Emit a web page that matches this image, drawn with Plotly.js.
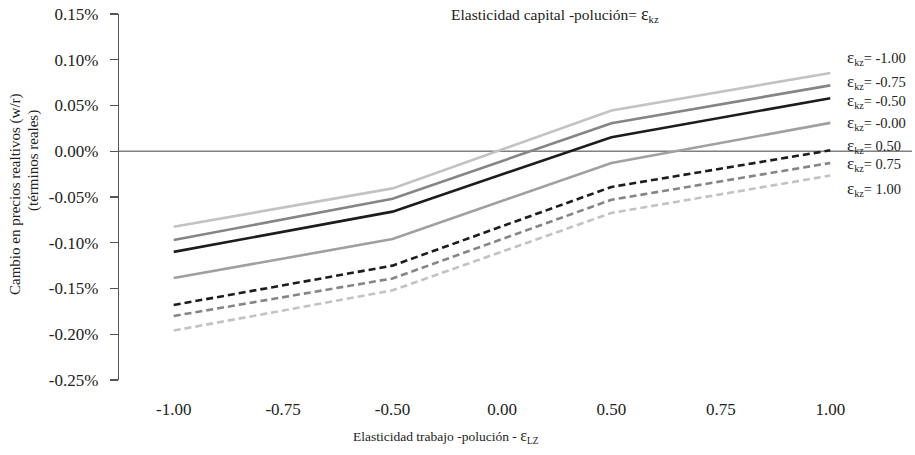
<!DOCTYPE html>
<html>
<head>
<meta charset="utf-8">
<script src="https://cdn.plot.ly/plotly-3.0.1.min.js"></script>
<style>
  html, body { margin: 0; padding: 0; background: #ffffff; }
  #chart { width: 915px; height: 455px; }
</style>
</head>
<body>
<div id="chart"></div>
<script>
// Categories of the labour-pollution elasticity (x axis)
const categories = ['-1.00', '-0.75', '-0.50', '0.00', '0.50', '0.75', '1.00'];

// Change in relative prices w/r (%), one series per capital-pollution elasticity
const ekz_m100 = [-0.0825, null, -0.0406, null, 0.0445, null, 0.0856];
const ekz_m075 = [-0.0970, null, -0.0520, null, 0.0306, null, 0.0720];
const ekz_m050 = [-0.1100, null, -0.0660, null, 0.0153, null, 0.0580];
const ekz_m000 = [-0.1386, null, -0.0960, null, -0.0128, null, 0.0310];
const ekz_p050 = [-0.1680, null, -0.1250, null, -0.0390, null, 0.0010];
const ekz_p075 = [-0.1800, null, -0.1390, null, -0.0530, null, -0.0128];
const ekz_p100 = [-0.1960, null, -0.1520, null, -0.0674, null, -0.0266];

const seriesNames = ['-1.00', '-0.75', '-0.50', '-0.00', '0.50', '0.75', '1.00'];

// Y axis ticks
const yTickVals = [0.15, 0.10, 0.05, 0.00, -0.05, -0.10, -0.15, -0.20, -0.25];
const yTickText = ['0.15%', '0.10%', '0.05%', '0.00%', '-0.05%', '-0.10%', '-0.15%', '-0.20%', '-0.25%'];
const yRange = [-0.25, 0.15];

const allSeries = [ekz_m100, ekz_m075, ekz_m050, ekz_m000, ekz_p050, ekz_p075, ekz_p100];
const styles = [
  {color: '#c3c3c3', dash: 'solid'},
  {color: '#858585', dash: 'solid'},
  {color: '#1c1c1c', dash: 'solid'},
  {color: '#a0a0a0', dash: 'solid'},
  {color: '#1c1c1c', dash: '7px,4px'},
  {color: '#858585', dash: '7px,4px'},
  {color: '#c3c3c3', dash: '7px,4px'}
];

const traces = allSeries.map((vals, i) => ({
  type: 'scatter',
  mode: 'lines',
  x: categories,
  y: vals,
  connectgaps: true,
  name: seriesNames[i],
  line: {color: styles[i].color, width: 2.6, dash: styles[i].dash},
  hoverinfo: 'x+y+name'
}));

// Layout geometry (pixels)
const W = 915, H = 455;
const mL = 119, mR = 30, mT = 14, mB = 75;
const plotW = W - mL - mR, plotH = H - mT - mB;
const px2x = p => (p - mL) / plotW;
const py2y = p => (H - mB - p) / plotH;

const font = 'Liberation Serif, Times New Roman, serif';
const labelY = [58, 82, 101, 123, 146, 164, 189];

const annotations = seriesNames.map((n, i) => ({
  xref: 'paper', yref: 'paper',
  x: px2x(845), y: py2y(labelY[i]),
  xanchor: 'left', yanchor: 'middle',
  text: '<span style="font-size:17px">\u03b5</span><sub>kz</sub>= ' + n,
  showarrow: false,
  font: {family: font, size: 14.5, color: '#222222'}
}));

annotations.push({
  xref: 'paper', yref: 'paper',
  x: px2x(555), y: py2y(14),
  xanchor: 'center', yanchor: 'middle',
  text: 'Elasticidad capital -polución= <span style="font-size:18px">\u03b5</span><sub>kz</sub>',
  showarrow: false,
  font: {family: font, size: 15.5, color: '#222222'}
});
annotations.push({
  xref: 'paper', yref: 'paper',
  x: px2x(446), y: py2y(436),
  xanchor: 'center', yanchor: 'middle',
  text: 'Elasticidad trabajo -polución - <span style="font-size:16px">\u03b5</span><sub>LZ</sub>',
  showarrow: false,
  font: {family: font, size: 13.5, color: '#222222'}
});
annotations.push({
  xref: 'paper', yref: 'paper',
  x: px2x(15), y: py2y(194),
  xanchor: 'center', yanchor: 'middle',
  textangle: -90,
  text: 'Cambio en precios realtivos (w/r)',
  showarrow: false,
  font: {family: font, size: 15, color: '#222222'}
});
annotations.push({
  xref: 'paper', yref: 'paper',
  x: px2x(33), y: py2y(161),
  xanchor: 'center', yanchor: 'middle',
  textangle: -90,
  text: '(términos reales)',
  showarrow: false,
  font: {family: font, size: 15, color: '#222222'}
});

const zeroY = (0 - yRange[0]) / (yRange[1] - yRange[0]);

const layout = {
  width: W, height: H,
  margin: {l: mL, r: mR, t: mT, b: mB, pad: 0},
  paper_bgcolor: '#ffffff',
  plot_bgcolor: '#ffffff',
  showlegend: false,
  font: {family: font, color: '#222222'},
  xaxis: {
    type: 'category',
    categoryorder: 'array',
    categoryarray: categories,
    range: [-0.5, categories.length - 0.5],
    showline: false,
    showgrid: false,
    zeroline: false,
    ticks: '',
    ticklabelstandoff: 17,
    tickfont: {family: font, size: 17, color: '#222222'}
  },
  yaxis: {
    range: yRange,
    tickvals: yTickVals,
    ticktext: yTickText,
    showline: true,
    linecolor: '#555555',
    linewidth: 1.3,
    ticks: 'outside',
    ticklen: 8,
    tickwidth: 1.3,
    tickcolor: '#555555',
    showgrid: false,
    zeroline: false,
    ticklabelstandoff: 8,
    tickfont: {family: font, size: 17, color: '#222222'}
  },
  shapes: [{
    type: 'line', xref: 'paper', yref: 'paper',
    x0: 0, x1: px2x(912), y0: zeroY, y1: zeroY,
    line: {color: '#808080', width: 1.6},
    layer: 'below'
  }],
  annotations: annotations
};

Plotly.newPlot('chart', traces, layout, {displayModeBar: false, staticPlot: true});
</script>
</body>
</html>
